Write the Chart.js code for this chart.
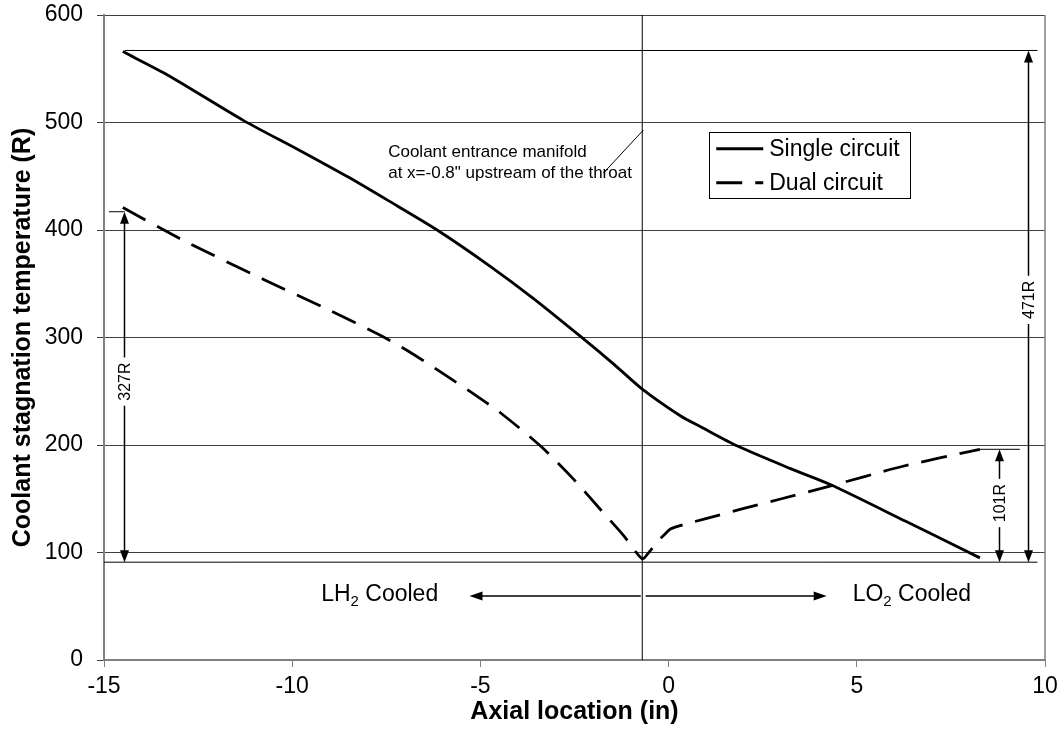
<!DOCTYPE html>
<html>
<head>
<meta charset="utf-8">
<script src="https://cdn.jsdelivr.net/npm/chart.js@4.4.0/dist/chart.umd.min.js"></script>
<style>
  html, body { margin: 0; padding: 0; background: #fff; }
</style>
</head>
<body>
<canvas id="chart" width="1064" height="750"></canvas>
<script>
// Series (x in inches, temperature in R)
const singleX = [-14.5, -13.3, -11.3, -9.8, -8.5, -7.48, -6.15, -4.73, -3.58, -2.34, -1.45, -0.7, 0.32, 0.85, 1.83, 3.24, 4.31, 6.3, 8.27];
const singleY = [566, 544, 502, 474, 449, 428, 400, 366, 336, 301, 275, 252, 227, 217, 199, 178, 163, 129, 95];

const dualX = [-14.5, -12.93, -10.76, -8.99, -7.66, -6.9, -6.06, -5.2, -4.47, -3.4, -2.52, -1.81, -1.2, -0.7, -0.55, -0.3, -0.1, 0.06, 0.4, 0.94, 2.0, 3.0, 4.31, 6.2, 8.27];
const dualY = [421, 391, 354, 325, 302, 287, 268, 248, 230, 199, 168, 140, 116, 94, 99, 110, 117, 122, 126, 131, 141, 150, 162, 180, 196];

const xTicks = [-15, -10, -5, 0, 5, 10];
const yTicks = [0, 100, 200, 300, 400, 500, 600];

const seriesNames = ['Single circuit', 'Dual circuit'];

// Reference lines / dimension markers (data units)
const manifoldX = -0.7;
const refTop = 567;
const refBottom = 91;
const dimX = [-14.47, 8.78, 9.54];
const dimTop = [417, 196, 567];
const dimLabel = ['327R', '101R', '471R'];
const dimLabelAt = [259, 146, 335];

const FONT = '"Liberation Sans", Arial, sans-serif';

function toPoints(xs, ys) {
    return xs.map((x, i) => ({ x: x, y: ys[i] }));
}

// Draws the annotations, arrows and legend that Excel had on top of the plot
const overlay = {
    id: 'overlay',
    afterDatasetsDraw(chart) {
        const ctx = chart.ctx;
        const sx = chart.scales.x, sy = chart.scales.y;
        const px = v => sx.getPixelForValue(v);
        const py = v => sy.getPixelForValue(v);
        const area = chart.chartArea;

        ctx.save();
        // right border of the plot area
        ctx.strokeStyle = '#808080';
        ctx.lineWidth = 1.5;
        ctx.beginPath();
        ctx.moveTo(area.right, area.top);
        ctx.lineTo(area.right, area.bottom);
        ctx.stroke();

        ctx.strokeStyle = '#000';
        ctx.lineWidth = 1;
        const line = (x1, y1, x2, y2) => {
            ctx.beginPath();
            ctx.moveTo(x1, y1);
            ctx.lineTo(x2, y2);
            ctx.stroke();
        };

        // manifold location
        line(px(manifoldX), area.top, px(manifoldX), area.bottom);
        // reference levels
        line(px(-14.45), py(refTop), px(9.8), py(refTop));
        line(px(-15), py(refBottom), px(9.8), py(refBottom));
        line(px(-14.87), py(417), px(-14.45), py(417));
        line(px(8.26), py(196), px(9.33), py(196));

        const head = (x, y, dir) => {
            // dir = -1 points up, 1 points down
            ctx.beginPath();
            ctx.moveTo(x, y);
            ctx.lineTo(x - 4.5, y - dir * 12);
            ctx.lineTo(x + 4.5, y - dir * 12);
            ctx.closePath();
            ctx.fill();
        };

        // dimension arrows
        ctx.fillStyle = '#000';
        ctx.font = '16px ' + FONT;
        dimX.forEach((dx, i) => {
            const x = Math.round(px(dx)) + 0.5;
            const yT = py(dimTop[i]);
            const yB = py(refBottom);
            const yL = py(dimLabelAt[i]);
            const half = ctx.measureText(dimLabel[i]).width / 2 + 5;
            ctx.lineWidth = 1.5;
            line(x, yT + 6, x, yL - half);
            line(x, yL + half, x, yB - 6);
            head(x, yT, -1);
            head(x, yB, 1);
            ctx.save();
            ctx.translate(x, yL);
            ctx.rotate(-Math.PI / 2);
            ctx.textAlign = 'center';
            ctx.textBaseline = 'middle';
            ctx.fillText(dimLabel[i], 0, 1);
            ctx.restore();
        });

        // manifold callout
        ctx.lineWidth = 1;
        line(px(-1.73), py(453), px(-0.67), py(493));
        ctx.font = '17px ' + FONT;
        ctx.textAlign = 'left';
        ctx.textBaseline = 'middle';
        ctx.fillText('Coolant entrance manifold', px(-7.45), py(472));
        ctx.fillText('at x=-0.8" upstream of the throat', px(-7.45), py(453));

        // cooled regions
        const yA = py(59.5);
        ctx.lineWidth = 1.5;
        line(px(-5.29) + 6, yA, px(-0.74), yA);
        line(px(-0.61), yA, px(4.2) - 6, yA);
        ctx.beginPath();
        ctx.moveTo(px(-5.29), yA);
        ctx.lineTo(px(-5.29) + 13, yA - 4.5);
        ctx.lineTo(px(-5.29) + 13, yA + 4.5);
        ctx.closePath();
        ctx.fill();
        ctx.beginPath();
        ctx.moveTo(px(4.2), yA);
        ctx.lineTo(px(4.2) - 13, yA - 4.5);
        ctx.lineTo(px(4.2) - 13, yA + 4.5);
        ctx.closePath();
        ctx.fill();

        const subLabel = (x, y, a, sub, b) => {
            ctx.textBaseline = 'alphabetic';
            ctx.font = '23px ' + FONT;
            ctx.fillText(a, x, y);
            let w = ctx.measureText(a).width;
            ctx.font = '15px ' + FONT;
            ctx.fillText(sub, x + w, y + 5);
            w += ctx.measureText(sub).width;
            ctx.font = '23px ' + FONT;
            ctx.fillText(b, x + w, y);
        };
        subLabel(px(-9.23), py(62) + 8, 'LH', '2', ' Cooled');
        subLabel(px(4.89), py(62) + 8, 'LO', '2', ' Cooled');

        // legend
        const lx1 = px(1.08), lx2 = px(6.41), ly1 = py(491.4), ly2 = py(429.8);
        ctx.fillStyle = '#fff';
        ctx.fillRect(lx1, ly1, lx2 - lx1, ly2 - ly1);
        ctx.fillStyle = '#000';
        ctx.lineWidth = 1;
        ctx.strokeRect(Math.round(lx1) + 0.5, Math.round(ly1) + 0.5, Math.round(lx2 - lx1), Math.round(ly2 - ly1));
        const rows = [ly1 + 17, ly1 + 51];
        ctx.font = '23px ' + FONT;
        ctx.textBaseline = 'middle';
        chart.data.datasets.forEach((ds, i) => {
            ctx.lineWidth = 3;
            ctx.setLineDash(ds.borderDash || []);
            line(lx1 + 7, rows[i], lx1 + 54, rows[i]);
            ctx.setLineDash([]);
            ctx.fillText(ds.label, lx1 + 60, rows[i] + 1);
        });
        ctx.restore();
    }
};

new Chart(document.getElementById('chart'), {
    type: 'scatter',
    data: {
        datasets: [
            {
                label: seriesNames[0],
                data: toPoints(singleX, singleY),
                showLine: true,
                borderColor: '#000',
                borderWidth: 2.8,
                pointRadius: 0,
                tension: 0.25
            },
            {
                label: seriesNames[1],
                data: toPoints(dualX, dualY),
                showLine: true,
                borderColor: '#000',
                borderWidth: 2.8,
                borderDash: [26, 13],
                pointRadius: 0,
                tension: 0.25
            }
        ]
    },
    options: {
        responsive: false,
        animation: false,
        layout: { padding: { left: 0, right: 19, top: 15, bottom: 0 } },
        plugins: {
            legend: { display: false },
            tooltip: { enabled: false }
        },
        scales: {
            x: {
                type: 'linear',
                min: -15,
                max: 10,
                afterBuildTicks: s => { s.ticks = xTicks.map(v => ({ value: v })); },
                afterFit: s => { s.height = 90; s.paddingLeft = 0; s.paddingRight = 0; },
                border: { color: '#808080', width: 2 },
                grid: { drawOnChartArea: false, drawTicks: true, tickLength: 7, color: '#808080' },
                ticks: { color: '#000', font: { family: FONT, size: 23 }, padding: 6, autoSkip: false, maxRotation: 0 },
                title: {
                    display: true,
                    text: 'Axial location (in)',
                    color: '#000',
                    font: { family: FONT, size: 25, weight: 'bold' },
                    padding: { top: 0, bottom: 23 }
                }
            },
            y: {
                type: 'linear',
                min: 0,
                max: 600,
                afterBuildTicks: s => { s.ticks = yTicks.map(v => ({ value: v })); },
                afterFit: s => { s.width = 104; s.paddingTop = 0; s.paddingBottom = 0; },
                border: { color: '#808080', width: 2 },
                grid: { color: '#404040', lineWidth: 1, tickLength: 7 },
                ticks: { color: '#000', font: { family: FONT, size: 23 }, padding: 14 },
                title: {
                    display: true,
                    text: 'Coolant stagnation temperature (R)',
                    color: '#000',
                    font: { family: FONT, size: 25, weight: 'bold' },
                    padding: { top: 8, bottom: 0 }
                }
            }
        }
    },
    plugins: [overlay]
});
</script>
</body>
</html>
